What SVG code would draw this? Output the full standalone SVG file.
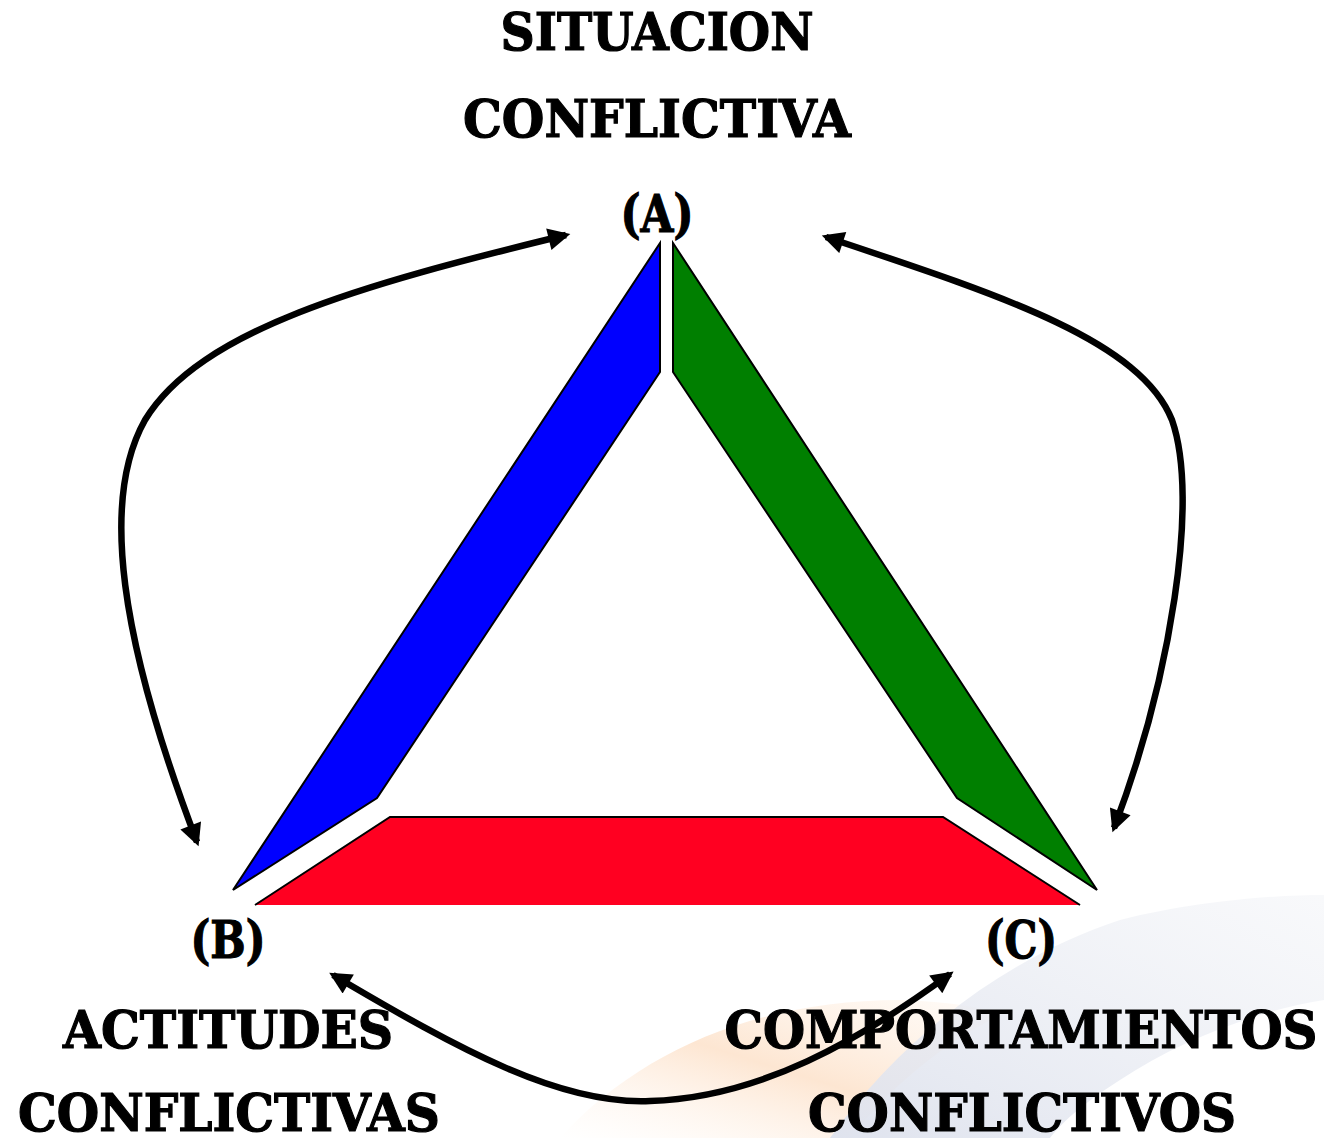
<svg xmlns="http://www.w3.org/2000/svg" width="1324" height="1138" viewBox="0 0 1324 1138">
<style>
.t{font-family:"DejaVu Serif","Liberation Serif",serif;font-weight:bold;font-size:52px;fill:#000;stroke:#000;stroke-width:1.2;text-anchor:middle}
.c{fill:none;stroke:#000;stroke-width:6.5}
.e{stroke:#000;stroke-width:2;stroke-linejoin:miter}
</style>
<defs>
<marker id="ah" viewBox="0 0 10 10" refX="8" refY="5" markerWidth="3.8" markerHeight="3.4" orient="auto-start-reverse" markerUnits="strokeWidth">
<path d="M0,0 L10,5 L0,10 z" fill="#000"/>
</marker>
<linearGradient id="og" x1="0" y1="1" x2="1" y2="0">
<stop offset="0" stop-color="#fff6ee" stop-opacity="0"/>
<stop offset="0.5" stop-color="#fde6d2"/>
<stop offset="1" stop-color="#fff3e8" stop-opacity="0.3"/>
</linearGradient>
<linearGradient id="bg" x1="0" y1="1" x2="1" y2="0">
<stop offset="0" stop-color="#dfe3ee"/>
<stop offset="1" stop-color="#eef0f5" stop-opacity="0.4"/>
</linearGradient>
</defs>
<rect width="1324" height="1138" fill="#fff"/>
<g id="watermark">
<path d="M560,1138 C640,1050 760,1000 900,1000 C960,1002 990,1010 1000,1015 C930,1050 880,1100 850,1138 Z" fill="url(#og)"/>
<path d="M830,1138 C900,1040 1000,960 1120,920 C1200,900 1280,895 1324,895 L1324,1000 C1260,1010 1180,1040 1120,1080 C1080,1105 1060,1125 1050,1138 Z" fill="url(#bg)"/>
</g>
<g id="triangle">
<g id="side-blue"><polygon class="e" points="660,243 660,372 377,798 233,890" fill="#0000ff"/></g>
<g id="side-green"><polygon class="e" points="673,243 673,372 957,798 1097,890" fill="#007f00"/></g>
<g id="side-red">
<polygon points="390,817 943,817 1080,905 255,905" fill="#ff0021"/>
<polyline points="255,905 390,817 943,817 1080,905" fill="none" stroke="#000" stroke-width="2"/>
</g>
</g>
<g id="connectors">
<path class="c" marker-end="url(#ah)" marker-start="url(#ah)" d="M566,235 C360,285 200,330 145,420 C100,500 120,640 197,842"/>
<path class="c" marker-end="url(#ah)" marker-start="url(#ah)" d="M826,237 C1000,295 1140,340 1172,420 C1200,500 1170,680 1114,828"/>
<path class="c" marker-end="url(#ah)" marker-start="url(#ah)" d="M333,975 C460,1050 560,1105 650,1101 C760,1098 860,1040 950,974"/>
</g>
<g id="node-A">
<text class="t" x="657" y="50" textLength="313" lengthAdjust="spacingAndGlyphs">SITUACION</text>
<text class="t" x="657" y="137" textLength="388" lengthAdjust="spacingAndGlyphs">CONFLICTIVA</text>
<text class="t" x="657" y="232" textLength="73" lengthAdjust="spacingAndGlyphs">(A)</text>
</g>
<g id="node-B">
<text class="t" x="228" y="958" textLength="75" lengthAdjust="spacingAndGlyphs">(B)</text>
<text class="t" x="228" y="1048" textLength="330" lengthAdjust="spacingAndGlyphs">ACTITUDES</text>
<text class="t" x="229" y="1131" textLength="422" lengthAdjust="spacingAndGlyphs">CONFLICTIVAS</text>
</g>
<g id="node-C">
<text class="t" x="1021" y="958" textLength="72" lengthAdjust="spacingAndGlyphs">(C)</text>
<text class="t" x="1021" y="1048" textLength="593" lengthAdjust="spacingAndGlyphs">COMPORTAMIENTOS</text>
<text class="t" x="1022" y="1131" textLength="428" lengthAdjust="spacingAndGlyphs">CONFLICTIVOS</text>
</g>
</svg>
